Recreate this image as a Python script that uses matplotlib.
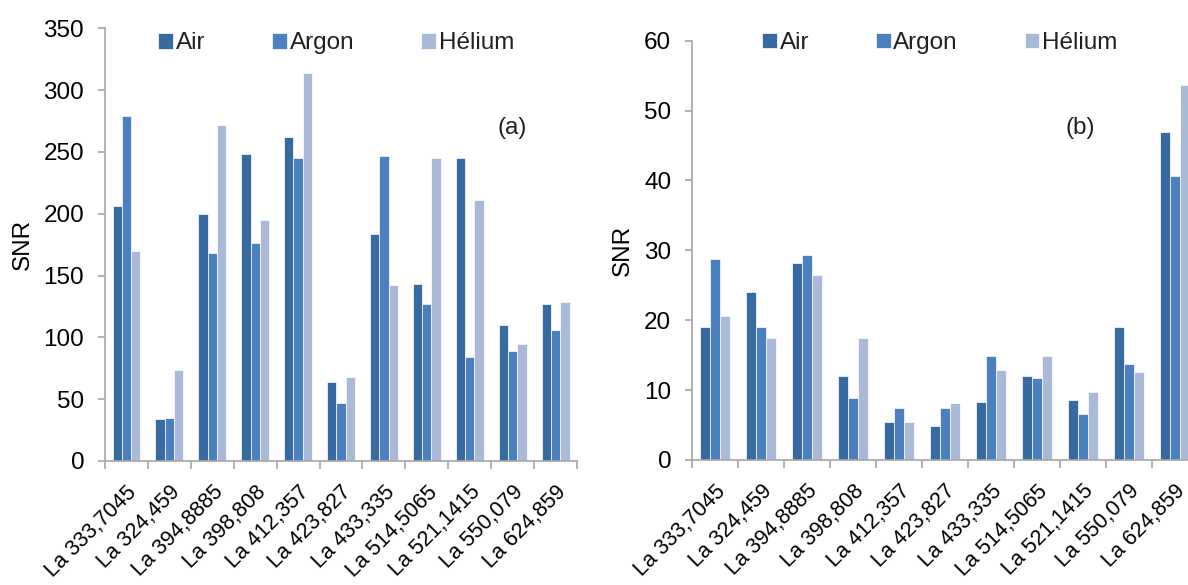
import matplotlib.pyplot as plt
import matplotlib.transforms as mtransforms
from matplotlib import font_manager
import numpy as np

# Données
raies = ["La 333,7045", "La 324,459", "La 394,8885", "La 398,808", "La 412,357",
         "La 423,827", "La 433,335", "La 514,5065", "La 521,1415", "La 550,079",
         "La 624,859"]
gaz = ["Air", "Argon", "Hélium"]

snr_a_air = [206, 34, 200, 248, 262, 64, 184, 143, 245, 110, 127]
snr_a_argon = [279, 35, 168, 176, 245, 47, 247, 127, 84, 89, 106]
snr_a_helium = [170, 74, 272, 195, 314, 68, 142, 245, 211, 95, 129]

snr_b_air = [19.1, 24.0, 28.2, 12.0, 5.5, 4.9, 8.3, 12.0, 8.6, 19.1, 47.0]
snr_b_argon = [28.8, 19.1, 29.3, 8.9, 7.5, 7.5, 14.9, 11.8, 6.6, 13.8, 40.7]
snr_b_helium = [20.6, 17.5, 26.5, 17.5, 5.5, 8.1, 12.9, 14.9, 9.8, 12.6, 53.6]

couleurs = ["#376aa0", "#4a80c0", "#aab9d8"]
gris = "#a6a6a6"

plt.rcParams["font.family"] = ["Liberation Sans", "DejaVu Sans"]
plt.rcParams["font.size"] = 17.5
plt.rcParams["text.color"] = "#231f20"

# police étroite pour les étiquettes de l'axe x si elle existe
noms = {f.name for f in font_manager.fontManager.ttflist}
if "Liberation Sans Narrow" in noms:
    police_x, taille_x = "Liberation Sans Narrow", 19
else:
    police_x, taille_x = "Liberation Sans", 15.5

fig = plt.figure(figsize=(11.88, 5.85), dpi=100)
ax_a = fig.add_axes([0.0884, 0.2120, 0.3973, 0.7396])
ax_b = fig.add_axes([0.5825, 0.2137, 0.4259, 0.7167])


def tracer(ax, series, ymax, pas, lettre, lettre_xy, leg_y):
    x = np.arange(len(raies))
    w = 0.217
    for i, (vals, nom) in enumerate(zip(series, gaz)):
        ax.bar(x + (i - 1) * w, vals, width=w, color=couleurs[i], label=nom,
               edgecolor="white", linewidth=0.5)
    ax.set_xlim(-0.5, len(raies) - 0.5)
    ax.set_ylim(0, ymax)
    ax.set_yticks(np.arange(0, ymax + 1, pas))
    ax.set_xticks(x)
    ax.set_xticklabels(raies, rotation=45, ha="right", va="top",
                       rotation_mode="anchor", fontsize=taille_x,
                       family=police_x)
    # petit décalage des étiquettes vers la gauche
    decal = mtransforms.ScaledTranslation(-10 / 100, 0, fig.dpi_scale_trans)
    for lab in ax.get_xticklabels():
        lab.set_transform(lab.get_transform() + decal)
    ax.set_xticks(np.arange(-0.5, len(raies)), minor=True)
    ax.tick_params(axis="x", which="major", length=0, pad=15)
    ax.tick_params(axis="x", which="minor", length=6, color=gris, width=1.2)
    ax.tick_params(axis="y", length=5, color=gris, width=1.2, pad=10)
    for s in ["top", "right"]:
        ax.spines[s].set_visible(False)
    for s in ["left", "bottom"]:
        ax.spines[s].set_color(gris)
        ax.spines[s].set_linewidth(1.2)
    ax.set_ylabel("SNR", labelpad=7)
    ax.text(lettre_xy[0], lettre_xy[1], lettre, transform=ax.transAxes,
            ha="center", va="center")
    ax.legend(loc="center", bbox_to_anchor=(0.49, leg_y), ncol=3, frameon=False,
              handlelength=0.6, handleheight=0.6, handletextpad=0.12,
              columnspacing=2.75, borderaxespad=0)


tracer(ax_a, [snr_a_air, snr_a_argon, snr_a_helium], 350, 50, "(a)",
       (0.862, 0.769), 0.965)
tracer(ax_b, [snr_b_air, snr_b_argon, snr_b_helium], 60, 10, "(b)",
       (0.767, 0.792), 0.995)

fig.savefig("out.png", dpi=100)
